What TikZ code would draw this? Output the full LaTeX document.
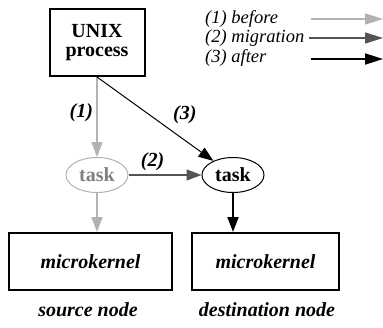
\documentclass[tikz,border=0pt]{standalone}
\usepackage{fontspec}
\setmainfont{Liberation Serif}
\usetikzlibrary{arrows.meta,shapes.geometric}
\usetikzlibrary{positioning}
\definecolor{beforegray}{gray}{0.7}
\definecolor{movegray}{gray}{0.33}
\definecolor{oldtext}{gray}{0.5}
\newcommand{\bigfont}{\fontsize{20}{19}\selectfont}
\newcommand{\legfont}{\fontsize{18.5}{20}\selectfont}
\tikzset{
    box/.style={
           rectangle,
           draw=black,
           line width=2pt,
           inner sep=0pt,
           text centered,
           },
    kernbox/.style={
           box,
           minimum height=57pt,
           font=\bigfont\bfseries\itshape,
           },
    taskshape/.style={
           ellipse,
           line width=1pt,
           minimum width=62pt,
           minimum height=35pt,
           inner sep=0pt,
           font=\bigfont\bfseries,
           },
    caption/.style={font=\bigfont\bfseries\itshape},
    steplabel/.style={font=\bigfont\bfseries\itshape},
    legend/.style={inner sep=0pt, anchor=west, font=\legfont\itshape},
    oldarrow/.style={draw=beforegray, line width=1.5pt},
    movearrow/.style={draw=movegray, line width=1.5pt},
    newthin/.style={draw=black, line width=1pt},
    newthick/.style={draw=black, line width=2pt},
}

\begin{document}
\begin{tikzpicture}[x=1pt,y=1pt,->,>={Triangle[length=15pt,width=11pt]}]
 \useasboundingbox (0,0) rectangle (383,-327);

 \node[box,
 minimum width=95pt,
 minimum height=67pt,
 align=center,
 font=\bigfont\bfseries] (PROC) at (97,-42.5)
 {UNIX\\process};

 \node[taskshape,
 draw=beforegray,
 text=oldtext,
 node distance=132.5pt,
 below of=PROC] (TASKA) {task};

 \node[taskshape,
 draw=black,
 node distance=136pt,
 right of=TASKA] (TASKB) {task};

 \node[kernbox,
 minimum width=163pt,
 node distance=86.5pt,
 below of=TASKA,
 xshift=-6.5pt] (KERNA) {microkernel};

 \node[kernbox,
 minimum width=147pt,
 node distance=175pt,
 right of=KERNA] (KERNB) {microkernel};

 \node[caption,
 node distance=48.5pt,
 below of=KERNA,
 xshift=-2.5pt] (SRC) {source node};

 \node[caption,
 node distance=48.5pt,
 below of=KERNB,
 xshift=1.5pt] (DST) {destination node};

 % legend
 \node[legend] (LEGA) at (205,-19) {(1) before};
 \node[legend] (LEGB) at (205,-38) {(2) migration};
 \node[legend] (LEGC) at (205,-58) {(3) after};
 \coordinate (LAs) at (311,-19);
 \coordinate (LAe) at (383,-19);
 \coordinate (LBs) at (309,-38);
 \coordinate (LBe) at (383,-38);
 \coordinate (LCs) at (311,-59);
 \coordinate (LCe) at (383,-59);

 \path[>={Triangle[length=18pt,width=11pt]}]
   (LAs) edge[oldarrow] (LAe)
   (LBs) edge[movearrow] (LBe)
   (LCs) edge[newthick] (LCe)
 ;

 \path (PROC) edge[oldarrow] node[steplabel, left, pos=0.45]
   {
   	(1)
   } (TASKA)
   (PROC.south) edge[newthin] node[steplabel, anchor=west, pos=0.45, xshift=20pt]
   {
  	 (3)
   } (TASKB)
   (TASKA) edge[movearrow] node[steplabel, above, pos=0.33]
   {
     (2)
   } (TASKB)
   (TASKA) edge[oldarrow] (TASKA.south |- KERNA.north)
   (TASKB) edge[newthick] (TASKB.south |- KERNB.north)
 ;
\end{tikzpicture}
\end{document}
